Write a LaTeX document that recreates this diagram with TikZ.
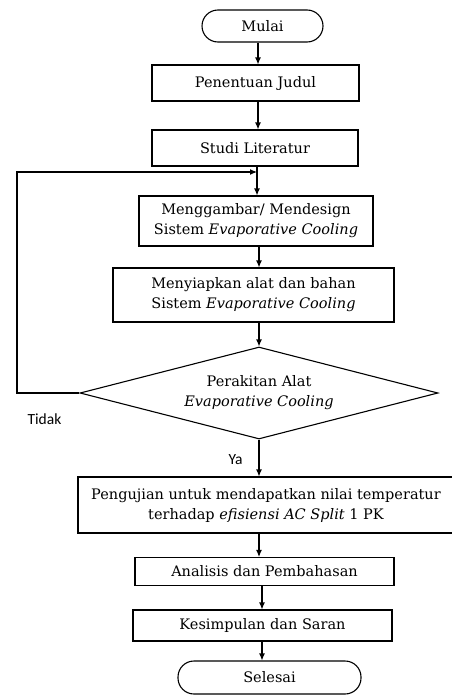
\documentclass[tikz,border=0pt]{standalone}
\usepackage{fontspec}
\setmainfont{DejaVu Serif}
\newfontfamily\labfont{Carlito}
\usetikzlibrary{arrows.meta,shapes.geometric}
\tikzset{
  box/.style={draw, line width=1.1pt, align=center, inner sep=0pt, font=\fontsize{14.5}{20}\selectfont},
  term/.style={box, rounded corners=16pt},
  arr/.style={line width=1.1pt, -{Latex[length=7pt,width=6pt]}},
  lbl/.style={font=\labfont\fontsize{15.5}{17}\selectfont, inner sep=0pt}
}
\begin{document}
\begin{tikzpicture}[x=1pt,y=-1pt]
\useasboundingbox (0,0) rectangle (451,696);
\node[term, minimum width=121pt, minimum height=32pt] (mulai) at (262.5,26) {Mulai};
\node[box, minimum width=207pt, minimum height=36pt] (judul) at (255.5,83) {Penentuan Judul};
\node[box, minimum width=206pt, minimum height=36pt] (studi) at (255,148) {Studi Literatur};
\node[box, minimum width=234pt, minimum height=50pt] (gambar) at (256,221) {Menggambar/ Mendesign\\Sistem \textit{Evaporative Cooling}};
\node[box, minimum width=281pt, minimum height=54pt] (siapkan) at (253.5,295) {Menyiapkan alat dan bahan\\Sistem \textit{Evaporative Cooling}};
\node[box, shape=diamond, aspect=3.9, minimum width=358pt, minimum height=92pt] (dia) at (259,393) {Perakitan Alat\\\textit{Evaporative Cooling}};
\node[box, minimum width=376pt, minimum height=56pt] (peng) at (266,505) {Pengujian untuk mendapatkan nilai temperatur\\terhadap \textit{efisiensi AC Split} 1 PK};
\node[box, minimum width=259pt, minimum height=28pt] (anal) at (264.5,571.5) {Analisis dan Pembahasan};
\node[box, minimum width=259pt, minimum height=31pt] (kes) at (262.5,625.5) {Kesimpulan dan Saran};
\node[term, minimum width=183pt, minimum height=33pt] (sel) at (269.5,677.5) {Selesai};
\node[lbl] (tidak) at (44.5,419) {Tidak};
\node[lbl] (ya) at (235.5,460) {Ya};
\coordinate (loopin) at (257,172);
\draw[arr] ([xshift=-4.5pt]mulai.south) -- ([xshift=-4.5pt]mulai.south |- judul.north);
\draw[arr] ([xshift=2.5pt]judul.south) -- ([xshift=2.5pt]judul.south |- studi.north);
\draw[arr] ([xshift=2pt]studi.south) -- ([xshift=2pt]studi.south |- gambar.north);
\draw[arr] ([xshift=3pt]gambar.south) -- ([xshift=3pt]gambar.south |- siapkan.north);
\draw[arr] ([xshift=5.5pt]siapkan.south) -- ([xshift=5.5pt]siapkan.south |- dia.north);
\draw[arr] (dia.south) -- (dia.south |- peng.north);
\draw[arr] ([xshift=-7pt]peng.south) -- ([xshift=-7pt]peng.south |- anal.north);
\draw[arr] ([xshift=-2.5pt]anal.south) -- ([xshift=-2.5pt]anal.south |- kes.north);
\draw[arr] ([xshift=-0.5pt]kes.south) -- ([xshift=-0.5pt]kes.south |- sel.north);
\draw[arr] (dia.west) -- (17,393) -- (17,172) -- (loopin);
\end{tikzpicture}
\end{document}
